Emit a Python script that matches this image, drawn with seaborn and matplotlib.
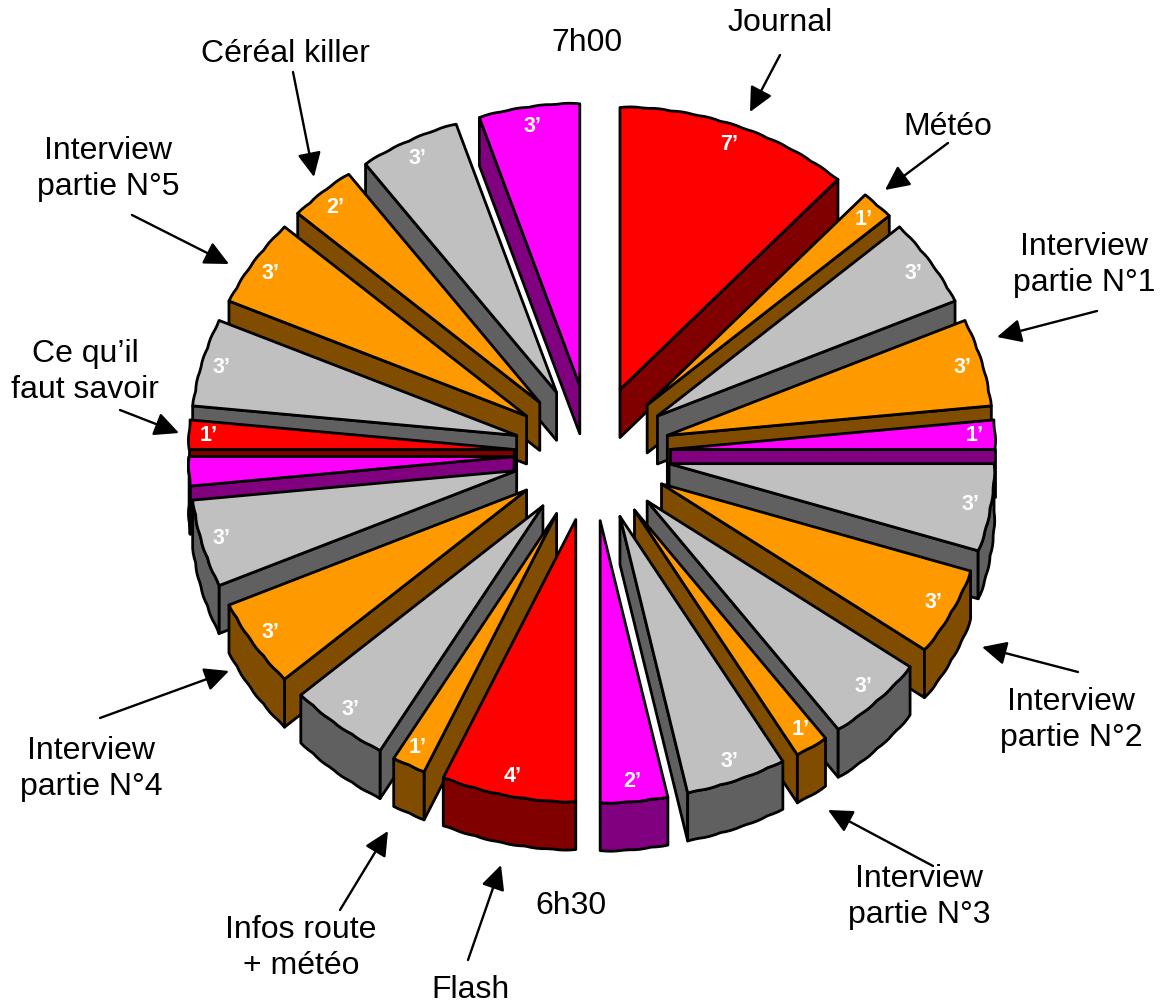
import numpy as np
import matplotlib
matplotlib.use("Agg")
import matplotlib.pyplot as plt
import seaborn as sns

sns.set_theme(style="white")
plt.rcParams['font.family'] = ['Liberation Sans', 'DejaVu Sans']

# Data: minutes per segment, clockwise from 7h00
minutes = [7, 1, 3, 3, 1, 3, 3, 3, 1, 3, 2, 4, 1, 3, 3, 3, 1, 1, 3, 3, 2, 3, 3]
kinds = ["red", "orange", "gray", "orange", "magenta", "gray", "orange", "gray", "orange", "gray", "magenta",
         "red", "orange", "gray", "orange", "gray", "magenta", "red", "gray", "orange", "orange", "gray", "magenta"]
show_label = [True] * 16 + [False] + [True] * 6

top_colors = dict(red="#FF0000", orange="#FF9900", gray="#C0C0C0", magenta="#FF00FF")
side_colors = dict(red="#800000", orange="#7F4C00", gray="#606060", magenta="#800080")

callouts = [
    ("Journal", (780, 23), (780, 55), (750, 112)),
    ("Météo", (948, 127), (948, 143), (885, 190)),
    ("Interview\npartie N°1", (1084, 265), (1097, 311), (997, 337)),
    ("Interview\npartie N°2", (1071, 720), (1078, 672), (982, 647)),
    ("Interview\npartie N°3", (919, 897), (933, 866), (828, 810)),
    ("Flash", (470, 990), (468, 960), (501, 865)),
    ("Infos route\n+ météo", (301, 948), (340, 910), (388, 831)),
    ("Interview\npartie N°4", (91, 769), (100, 718), (229, 671)),
    ("Ce qu’il\nfaut savoir", (85, 372), (120, 410), (179, 433)),
    ("Interview\npartie N°5", (108, 169), (132, 215), (229, 264)),
    ("Céréal killer", (285, 54), (293, 72), (314, 177)),
]
time_marks = [("7h00", (587, 43)), ("6h30", (571, 906))]

# Geometry of the exploded 3-D pie (pixel frame)
CX, CY = 592, 453
RX, RY = 325, 282
EX, EY = 78, 68
DEPTH = 48
LW = 2.0


def edge_scale(angle_deg):
    # small scalloped outline along the rim of each slice
    return 1 + 0.0028 * np.abs(np.sin(np.radians(angle_deg) * 40))


fig = plt.figure(figsize=(11.62, 10.07), dpi=100)
ax = fig.add_axes([0, 0, 1, 1])
ax.set_xlim(0, 1162)
ax.set_ylim(1007, 0)
ax.axis("off")

edges = np.cumsum([0] + minutes) * 6.0
mids = (edges[:-1] + edges[1:]) / 2


def rim(a_deg, ox, oy):
    a = np.radians(a_deg)
    s = edge_scale(a_deg)
    return ox + RX * s * np.sin(a), oy - RY * s * np.cos(a)


# painter's order: back (top of the picture) first
order = sorted(range(len(minutes)), key=lambda i: -np.cos(np.radians(mids[i])))

for z, i in enumerate(order):
    a0, a1, mid = edges[i], edges[i + 1], mids[i]
    ax0 = CX + EX * np.sin(np.radians(mid))
    ay0 = CY - EY * np.cos(np.radians(mid))
    arc = np.linspace(a0, a1, int(round(a1 - a0)) + 1)
    arcx, arcy = rim(arc, ax0, ay0)
    top = top_colors[kinds[i]]
    side = side_colors[kinds[i]]
    kw = dict(facecolor=side, edgecolor="black", linewidth=LW, joinstyle="round", zorder=z * 3 + 1)

    # radial walls that face the viewer
    for k, (x1, y1) in enumerate([(arcx[0], arcy[0]), (arcx[-1], arcy[-1])]):
        dx = x1 - ax0
        ny = dx if k == 1 else -dx
        if ny > 0.5:
            ax.fill([ax0, x1, x1, ax0], [ay0, y1, y1 + DEPTH, ay0 + DEPTH], **kw)

    # outer wall: only the part of the arc in the lower half
    lo, hi = max(a0, 90), min(a1, 270)
    if hi > lo:
        arc2 = np.linspace(lo, hi, int(round(hi - lo)) + 1)
        x2, y2 = rim(arc2, ax0, ay0)
        ax.fill(np.r_[x2, x2[::-1]], np.r_[y2, y2[::-1] + DEPTH], **kw)

    ax.fill(np.r_[ax0, arcx], np.r_[ay0, arcy], facecolor=top, edgecolor="black", linewidth=LW,
            joinstyle="round", zorder=z * 3 + 2)

    if show_label[i]:
        a = np.radians(mid)
        ax.text(ax0 + 0.94 * RX * np.sin(a), ay0 - 0.93 * RY * np.cos(a), f"{minutes[i]}’",
                color="white", fontsize=15.5, fontweight="bold", ha="center", va="center",
                zorder=z * 3 + 3)

Z = 500
for text, pos, start, end in callouts:
    ax.text(pos[0], pos[1], text, fontsize=23, color="black", ha="center", va="center",
            linespacing=1.27, zorder=Z)
    ax.annotate("", xy=end, xytext=start, zorder=Z,
                arrowprops=dict(arrowstyle="-|>,head_length=0.62,head_width=0.3", color="black",
                                lw=1.7, mutation_scale=24, shrinkA=0, shrinkB=0))
for text, pos in time_marks:
    ax.text(pos[0], pos[1], text, fontsize=23, color="black", ha="center", va="center", zorder=Z)

fig.savefig("out.png", dpi=100, facecolor="white")
